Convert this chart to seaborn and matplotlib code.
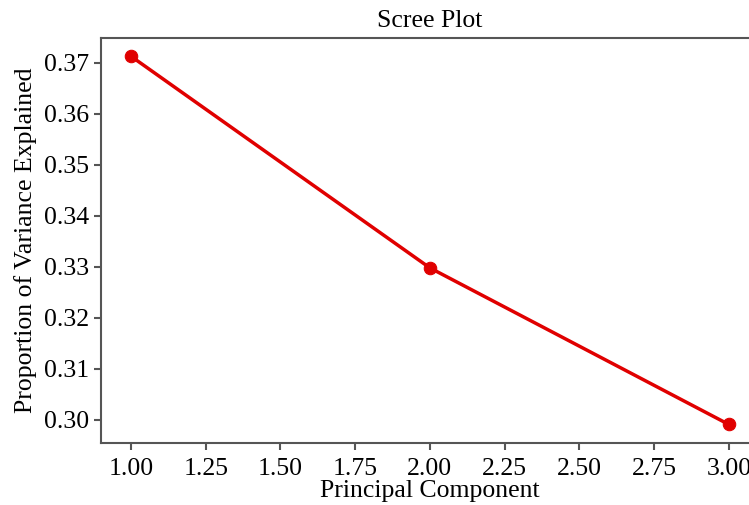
import matplotlib
matplotlib.use("Agg")
import matplotlib.pyplot as plt
from matplotlib.ticker import MultipleLocator, FormatStrFormatter
import seaborn as sns
import pandas as pd

# explained variance ratio per component
components = [1, 2, 3]
variance_ratio = [0.3713, 0.3298, 0.2991]

df = pd.DataFrame({"Principal Component": components,
                   "Proportion of Variance Explained": variance_ratio})

sns.set_style("white")
plt.rcParams["font.family"] = ["Liberation Serif", "DejaVu Serif"]
plt.rcParams["text.color"] = "black"
plt.rcParams["axes.labelcolor"] = "black"
plt.rcParams["xtick.color"] = "black"
plt.rcParams["ytick.color"] = "black"

fig = plt.figure(figsize=(7.49, 5.05), dpi=100)
ax = fig.add_axes([0.135, 0.123, 0.878, 0.802])

sns.lineplot(data=df, x="Principal Component", y="Proportion of Variance Explained",
             marker="o", color="#e00000", linewidth=2.5, markersize=9,
             markeredgecolor="#e00000", ax=ax)

ax.xaxis.set_major_locator(MultipleLocator(0.25))
ax.xaxis.set_major_formatter(FormatStrFormatter("%.2f"))
ax.yaxis.set_major_locator(MultipleLocator(0.01))
ax.yaxis.set_major_formatter(FormatStrFormatter("%.2f"))

ax.set_title("Scree Plot", fontsize=18.5, pad=8)
ax.set_xlabel("Principal Component", fontsize=18.5, labelpad=0)
ax.set_ylabel("Proportion of Variance Explained", fontsize=18.5, labelpad=5)
ax.tick_params(axis="both", labelsize=18.5, length=5, width=1.5, color="#555555",
               direction="out", bottom=True, left=True)
ax.tick_params(axis="x", pad=6)
for s in ax.spines.values():
    s.set_color("#555555")
    s.set_linewidth(1.5)

fig.savefig("out.png", dpi=100)
